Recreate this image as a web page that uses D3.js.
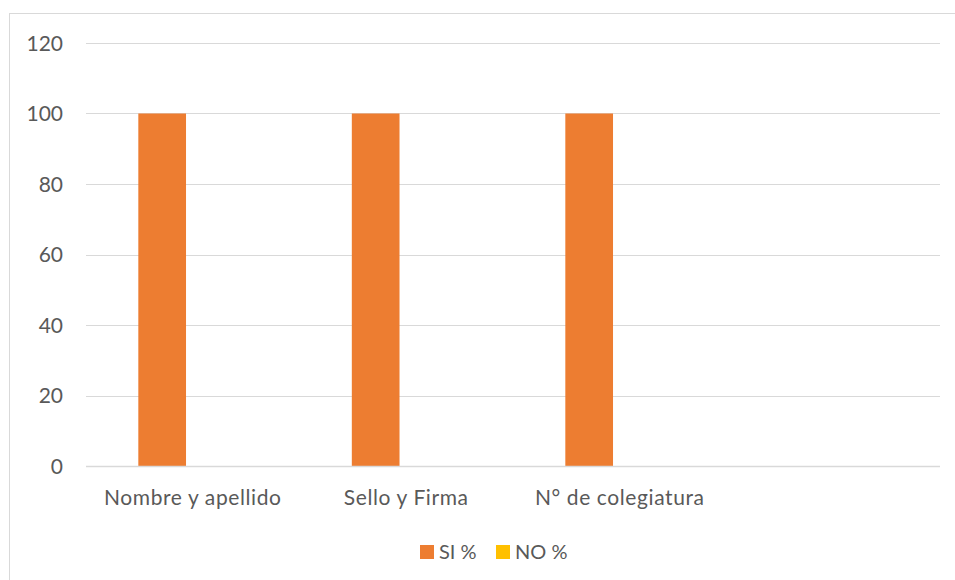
<!DOCTYPE html>
<html>
<head>
<meta charset="utf-8">
<script src="https://cdn.jsdelivr.net/npm/d3@7"></script>
<style>
  html, body { margin: 0; padding: 0; background: #fff; }
  svg { display: block; }
  text { font-family: Lato, "Noto Sans", sans-serif; fill: #595959; }
</style>
</head>
<body>
<svg id="chart" width="955" height="580"></svg>
<script>
// Chart data
const categories = ["Nombre y apellido", "Sello y Firma", "N° de colegiatura", ""];
const seriesNames = ["SI %", "NO %"];
const siValues = [100, 100, 100, null];
const noValues = [0, 0, 0, null];
const yTicks = [0, 20, 40, 60, 80, 100, 120];
const colors = ["#ED7D31", "#FFC000"];

const svg = d3.select("#chart");
const FONT = "Lato, 'Noto Sans', sans-serif";

// Outer chart frame (runs past the right and bottom edges)
svg.append("rect")
  .attr("x", 9.5).attr("y", 13.5)
  .attr("width", 960).attr("height", 580)
  .attr("fill", "none").attr("stroke", "#D9D9D9").attr("stroke-width", 1);

const plot = { left: 86, right: 940, top: 43, bottom: 466 };

const x0 = d3.scaleBand().domain(categories.map((c, i) => i))
  .range([plot.left, plot.right]).padding(0);
const x1 = d3.scaleBand().domain(seriesNames)
  .range([0, x0.bandwidth()]).paddingInner(0).paddingOuter(1.238).align(0.443);
const y = d3.scaleLinear().domain([0, 120]).range([plot.bottom, plot.top]);

// Gridlines
svg.append("g")
  .selectAll("line").data(yTicks.filter(t => t !== 0)).join("line")
  .attr("x1", plot.left).attr("x2", plot.right)
  .attr("y1", d => Math.round(y(d)) + 0.5).attr("y2", d => Math.round(y(d)) + 0.5)
  .attr("stroke", "#D9D9D9").attr("stroke-width", 1);

// Y axis labels
const yAxis = d3.axisLeft(y).tickValues(yTicks).tickSize(0).tickPadding(0);
const gy = svg.append("g").attr("transform", `translate(${plot.left - 23},0)`).call(yAxis);
gy.select(".domain").remove();
gy.selectAll("text").attr("font-size", 21).attr("fill", "#595959").attr("dy", "0.35em")
  .style("font-family", FONT);

// Bars
const rows = categories.map((c, i) => ({ i, values: [siValues[i], noValues[i]] }));
const groups = svg.append("g").selectAll("g").data(rows).join("g")
  .attr("transform", d => `translate(${x0(d.i)},0)`);
groups.selectAll("rect")
  .data(d => d.values.map((v, k) => ({ v, k })).filter(e => e.v !== null && e.v > 0))
  .join("rect")
  .attr("x", e => x1(seriesNames[e.k]))
  .attr("width", x1.bandwidth())
  .attr("y", e => y(e.v))
  .attr("height", e => y(0) - y(e.v))
  .attr("fill", e => colors[e.k]);

// Category axis
svg.append("line")
  .attr("x1", plot.left).attr("x2", plot.right)
  .attr("y1", plot.bottom + 0.5).attr("y2", plot.bottom + 0.5)
  .attr("stroke", "#D9D9D9").attr("stroke-width", 1.5);

const xAxis = d3.axisBottom(x0).tickFormat(i => categories[i]).tickSize(0).tickPadding(0);
const gx = svg.append("g").attr("transform", `translate(0,${plot.bottom + 39})`).call(xAxis);
gx.select(".domain").remove();
gx.selectAll("text").attr("font-size", 21).attr("fill", "#595959").attr("dy", 0)
  .attr("letter-spacing", "0.6px")
  .style("font-family", FONT);

// Legend
const legend = svg.append("g").attr("transform", "translate(420,559)");
const legendItems = [{ name: seriesNames[0], color: colors[0], dx: 0 }, { name: seriesNames[1], color: colors[1], dx: 76 }];
const li = legend.selectAll("g").data(legendItems).join("g")
  .attr("transform", d => `translate(${d.dx},0)`);
li.append("rect").attr("x", 0).attr("y", -14).attr("width", 14).attr("height", 14)
  .attr("fill", d => d.color);
li.append("text").attr("x", 19).attr("y", 0)
  .attr("font-size", 20).text(d => d.name);
</script>
</body>
</html>
